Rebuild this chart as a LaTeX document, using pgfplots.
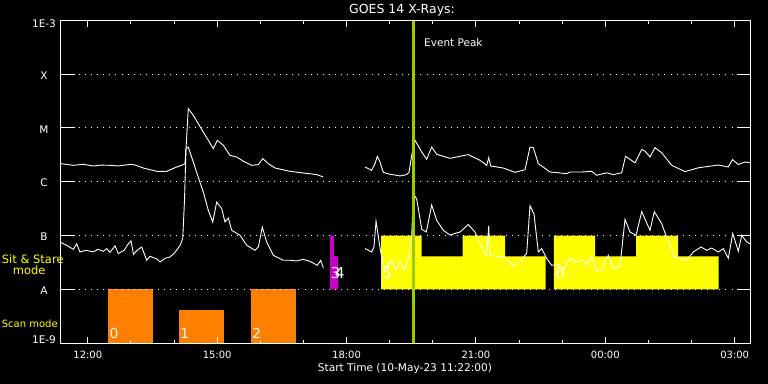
\documentclass[border=0pt]{standalone}
\usepackage{pgfplots}
\pgfplotsset{compat=1.18}
\usepackage{fontspec}
\setmainfont{DejaVu Sans}
\newcommand{\fs}[1]{\fontsize{#1bp}{#1bp}\selectfont}
\definecolor{scanorange}{RGB}{255,128,0}
\definecolor{ssmagenta}{RGB}{200,0,200}
\definecolor{ssyellow}{RGB}{255,255,0}
\definecolor{peakgreen}{RGB}{154,205,0}
\begin{document}
\begin{tikzpicture}
\fill[black] (0,0) rectangle (768bp,384bp);
\useasboundingbox (0,0) rectangle (768bp,384bp);
\begin{axis}[
  at={(60.5bp,40.7bp)}, anchor=south west,
  scale only axis, width=690bp, height=323bp,
  xmin=11.3667, xmax=27.3667, ymin=-9, ymax=-3,
  axis on top,
  axis line style={white, line width=1bp},
  xtick={12,15,18,21,24,27},
  xticklabels={12:00,15:00,18:00,21:00,00:00,03:00},
  minor xtick={13,14,16,17,19,20,22,23,25,26},
  ytick={-8,-7,-6,-5,-4},
  yticklabels={A,B,C,M,X},
  tick align=inside,
  every tick/.style={white, line width=1bp},
  major tick length=6.5bp,
  minor tick length=3.3bp,
  ymajorgrids,
  grid style={white, line width=1bp, dash pattern=on 1bp off 5.1bp},
  ticklabel style={white},
  xticklabel style={font=\fs{10}, anchor=base, yshift=-15.7bp},
  yticklabel style={font=\fs{10.5}, anchor=center, xshift=-16.5bp, yshift=-1.3bp},
]
% Scan mode bars
\addplot[fill=scanorange, draw=none] coordinates {(12.468,-9) (12.468,-8) (13.505,-8) (13.505,-9)};
\addplot[fill=scanorange, draw=none] coordinates {(14.115,-9) (14.115,-8.387) (15.151,-8.387) (15.151,-9)};
\addplot[fill=scanorange, draw=none] coordinates {(15.784,-9) (15.784,-8) (16.821,-8) (16.821,-9)};
% Sit & Stare bars
\addplot[fill=ssmagenta, draw=none] coordinates {(17.616,-8) (17.616,-7) (17.709,-7) (17.709,-7.384) (17.802,-7.384) (17.802,-8)};
\addplot[fill=ssyellow, draw=none] coordinates {(18.799,-8) (18.799,-7) (19.743,-7) (19.743,-7.384) (20.693,-7.384) (20.693,-7) (21.674,-7) (21.674,-7.384) (22.618,-7.384) (22.618,-8)};
\addplot[fill=ssyellow, draw=none] coordinates {(22.810,-8) (22.810,-7) (23.761,-7) (23.761,-7.384) (24.712,-7.384) (24.712,-7) (25.686,-7) (25.686,-7.384) (26.629,-7.384) (26.629,-8)};
% GOES long channel
\addplot[white, line width=0.9bp] coordinates {(11.367,-5.662) (11.664,-5.694) (11.896,-5.675) (12.127,-5.707) (12.30,-5.690) (12.515,-5.694) (12.70,-5.705) (13.018,-5.675) (13.10,-5.690) (13.287,-5.744) (13.597,-5.805) (13.829,-5.805) (14.061,-5.725) (14.214,-5.681) (14.254,-5.657) (14.289,-5.229) (14.330,-4.640) (14.446,-4.765) (14.678,-5.075) (14.910,-5.383) (15.003,-5.229) (15.142,-5.322) (15.297,-5.508) (15.453,-5.539) (15.606,-5.619) (15.801,-5.694) (15.954,-5.681) (16.056,-5.569) (16.185,-5.662) (16.341,-5.744) (16.689,-5.805) (16.997,-5.837) (17.308,-5.866) (17.461,-5.911)};
\addplot[white, line width=0.9bp] coordinates {(18.428,-5.725) (18.583,-5.787) (18.660,-5.662) (18.713,-5.526) (18.776,-5.632) (18.852,-5.824) (19.007,-5.861) (19.163,-5.879) (19.239,-5.892) (19.395,-5.866) (19.448,-5.824) (19.511,-5.508) (19.552,-5.322) (19.587,-5.229) (19.743,-5.447) (19.858,-5.582) (19.974,-5.354) (20.090,-5.489) (20.399,-5.564) (20.823,-5.495) (21.094,-5.601) (21.250,-5.694) (21.296,-5.551) (21.342,-5.707) (21.635,-5.744) (21.906,-5.824) (22.138,-5.774) (22.254,-5.354) (22.330,-5.365) (22.446,-5.662) (22.718,-5.818) (23.105,-5.848) (23.181,-5.818) (23.453,-5.818) (23.684,-5.805) (23.800,-5.879) (24.032,-5.833) (24.185,-5.866) (24.380,-5.833) (24.468,-5.526) (24.689,-5.647) (24.844,-5.400) (24.920,-5.428) (25.036,-5.539) (25.152,-5.365) (25.308,-5.461) (25.540,-5.694) (25.848,-5.811) (26.156,-5.740) (26.620,-5.688) (26.852,-5.725) (26.949,-5.588) (27.084,-5.679) (27.239,-5.632) (27.355,-5.644)};
% GOES short channel
\addplot[white, line width=0.9bp] coordinates {(11.367,-7.124) (11.511,-7.180) (11.664,-7.254) (11.743,-7.152) (11.819,-7.304) (11.958,-7.273) (12.127,-7.301) (12.237,-7.254) (12.359,-7.291) (12.438,-7.241) (12.515,-7.310) (12.631,-7.189) (12.707,-7.334) (12.839,-7.273) (12.932,-7.161) (13.002,-7.096) (13.060,-7.347) (13.141,-7.273) (13.250,-7.211) (13.366,-7.458) (13.442,-7.384) (13.597,-7.431) (13.674,-7.490) (13.790,-7.421) (13.906,-7.397) (14.022,-7.310) (14.138,-7.180) (14.201,-7.055) (14.242,-6.344) (14.277,-5.383) (14.330,-5.354) (14.446,-5.632) (14.555,-5.898) (14.678,-6.190) (14.794,-6.530) (14.896,-6.747) (14.989,-6.375) (15.105,-6.498) (15.181,-6.747) (15.258,-6.673) (15.337,-6.901) (15.529,-6.994) (15.685,-7.180) (15.877,-7.273) (15.954,-7.211) (16.046,-6.840) (16.148,-7.119) (16.301,-7.366) (16.533,-7.458) (16.689,-7.458) (16.844,-7.471) (16.990,-7.440) (17.152,-7.477) (17.322,-7.551) (17.401,-7.458) (17.461,-7.601)};
\addplot[white, line width=0.9bp] coordinates {(18.428,-7.241) (18.583,-7.304) (18.636,-7.211) (18.683,-6.734) (18.736,-7.013) (18.792,-7.304) (18.852,-7.533) (18.931,-7.613) (18.984,-7.496) (19.047,-7.458) (19.100,-7.570) (19.163,-7.631) (19.216,-7.514) (19.279,-7.520) (19.316,-7.613) (19.355,-7.644) (19.432,-7.412) (19.511,-6.994) (19.548,-6.214) (19.627,-6.325) (19.743,-6.883) (19.849,-6.933) (19.974,-6.431) (20.090,-6.715) (20.243,-6.901) (20.399,-6.988) (20.631,-6.933) (20.823,-6.793) (20.978,-6.933) (21.134,-7.211) (21.250,-7.366) (21.296,-6.818) (21.326,-7.366) (21.482,-7.384) (21.674,-7.412) (21.867,-7.561) (22.022,-7.477) (22.177,-7.328) (22.254,-6.442) (22.347,-6.604) (22.446,-7.304) (22.525,-7.241) (22.641,-7.427) (22.757,-7.551) (22.910,-7.533) (23.026,-7.644) (23.181,-7.427) (23.337,-7.490) (23.490,-7.458) (23.569,-7.551) (23.684,-7.397) (23.800,-7.663) (23.916,-7.613) (24.069,-7.366) (24.185,-7.613) (24.341,-7.561) (24.457,-6.697) (24.573,-6.933) (24.712,-6.994) (24.844,-6.554) (25.036,-6.901) (25.136,-6.554) (25.308,-6.777) (25.384,-6.948) (25.616,-7.397) (25.887,-7.458) (26.040,-7.304) (26.219,-7.211) (26.351,-7.273) (26.467,-7.230) (26.620,-7.304) (26.736,-7.241) (26.852,-7.421) (26.954,-6.962) (27.084,-7.288) (27.163,-6.994) (27.279,-7.119) (27.355,-7.148)};
% Event peak
\addplot[peakgreen, line width=2.7bp] coordinates {(19.557,-9) (19.557,-3)};
% long y ticks on both sides
\pgfplotsinvokeforeach{-8,-7,-6,-5,-4}{
  \draw[white, line width=1bp] (axis cs:11.3667,#1) -- ++(14bp,0bp);
  \draw[white, line width=1bp] (axis cs:27.3667,#1) -- ++(-14bp,0bp);
}
% bar labels
\node[white, anchor=base west, inner sep=0pt, font=\fs{13.7}] at (axis cs:12.50,-8.91) {0};
\node[white, anchor=base west, inner sep=0pt, font=\fs{13.7}] at (axis cs:14.14,-8.91) {1};
\node[white, anchor=base west, inner sep=0pt, font=\fs{13.7}] at (axis cs:15.81,-8.91) {2};
\node[white, anchor=base west, inner sep=0pt, font=\fs{15}] at (axis cs:17.63,-7.79) {3};
\node[white, anchor=base west, inner sep=0pt, font=\fs{15}] at (axis cs:17.73,-7.79) {4};
\node[white, anchor=base west, inner sep=0pt, font=\fs{15}] at (axis cs:18.82,-7.79) {5};
\node[white, anchor=base west, inner sep=0pt, font=\fs{15}] at (axis cs:22.84,-7.79) {6};
\end{axis}
\node[white, anchor=center, font=\fs{10.5}] at (44bp,384bp-23.7bp) {1E-3};
\node[white, anchor=center, font=\fs{10.5}] at (44bp,384bp-340bp) {1E-9};
\node[white, anchor=base, font=\fs{12.5}] at (402bp,384bp-14bp) {GOES 14 X-Rays:};
\node[white, anchor=base west, inner sep=0pt, font=\fs{10.5}] at (424bp,384bp-46.7bp) {Event Peak};
\node[white, anchor=base, font=\fs{10.6}] at (405bp,384bp-371.7bp) {Start Time (10-May-23 11:22:00)};
\node[ssyellow, anchor=base west, inner sep=0pt, font=\fs{11.5}] at (1.7bp,384bp-263.3bp) {Sit \& Stare};
\node[ssyellow, anchor=base west, inner sep=0pt, font=\fs{11.5}] at (12.7bp,384bp-274.3bp) {mode};
\node[ssyellow, anchor=base west, inner sep=0pt, font=\fs{10}] at (1.7bp,384bp-327.7bp) {Scan mode};
\end{tikzpicture}
\end{document}
